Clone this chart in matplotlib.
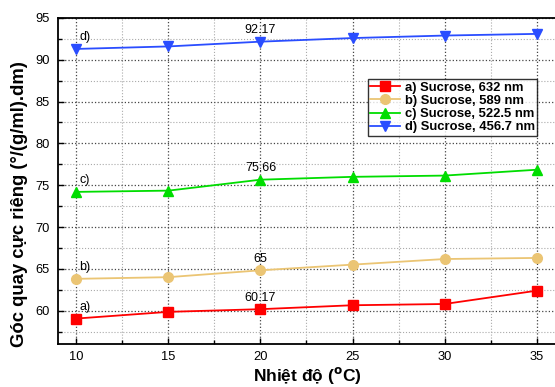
import matplotlib
matplotlib.use("Agg")
import matplotlib.pyplot as plt
from matplotlib.ticker import MultipleLocator

plt.rcParams['font.family'] = ['Liberation Sans', 'DejaVu Sans']

temps = [10, 15, 20, 25, 30, 35]
sucrose_632 = [59.05, 59.85, 60.17, 60.64, 60.79, 62.38]
sucrose_589 = [63.8, 64.0, 64.82, 65.5, 66.17, 66.3]
sucrose_5225 = [74.2, 74.35, 75.66, 76.0, 76.15, 76.85]
sucrose_4567 = [91.3, 91.6, 92.17, 92.6, 92.9, 93.1]

series_labels = ["a) Sucrose, 632 nm", "b) Sucrose, 589 nm",
                 "c) Sucrose, 522.5 nm", "d) Sucrose, 456.7 nm"]
tags = ["a)", "b)", "c)", "d)"]
highlight = ["60.17", "65", "75.66", "92.17"]

colors = ["#FF0000", "#EBC574", "#00DD00", "#2A4DFF"]
markers = ["s", "o", "^", "v"]

fig = plt.figure(figsize=(5.55, 3.87), dpi=100)
ax = fig.add_axes([0.1045, 0.111, 0.8955, 0.8425])

data = [sucrose_632, sucrose_589, sucrose_5225, sucrose_4567]
for vals, c, m, lab in zip(data, colors, markers, series_labels):
    ax.plot(temps, vals, color=c, marker=m, markersize=7, linewidth=1.3,
            label=lab, zorder=3)

for vals, tag, hl in zip(data, tags, highlight):
    ax.annotate(tag, (temps[0], vals[0]), xytext=(2, 4), textcoords='offset points',
                fontsize=9, ha='left', va='bottom')
    ax.annotate(hl, (temps[2], vals[2]), xytext=(0, 4), textcoords='offset points',
                fontsize=9, ha='center', va='bottom')

ax.set_xlim(9, 36)
ax.set_ylim(56, 95)
ax.set_xticks(temps)
ax.xaxis.set_minor_locator(MultipleLocator(2.5))
ax.yaxis.set_major_locator(MultipleLocator(5))
ax.yaxis.set_minor_locator(MultipleLocator(2.5))
ax.tick_params(which='both', direction='in', labelsize=9.3, width=1)
ax.tick_params(which='major', length=4)
ax.tick_params(which='minor', length=3)
ax.tick_params(axis='x', pad=5)
ax.tick_params(axis='y', pad=6)
ax.grid(which='major', linestyle=':', color='#444444', linewidth=0.9)
ax.grid(which='minor', linestyle=':', color='#AAAAAA', linewidth=0.8)
ax.set_axisbelow(True)
for s in ax.spines.values():
    s.set_linewidth(1.3)
ax.spines['right'].set_visible(False)

ax.set_xlabel("Nhiệt độ ($^{\\mathbf{o}}$C)", fontsize=12.5, fontweight='bold')
ax.xaxis.set_label_coords(0.501, -0.064)
ax.set_ylabel("Góc quay cực riêng (°/(g/ml).dm)", fontsize=13.3, fontweight='bold')
ax.yaxis.set_label_coords(-0.06, 0.43)

leg = ax.legend(loc='upper left', bbox_to_anchor=(0.623, 0.813),
                prop={'weight': 'bold', 'size': 9.4}, frameon=True, fancybox=False,
                edgecolor='black', handlelength=2.3, borderpad=0.2, labelspacing=0.08,
                handletextpad=0.35, borderaxespad=0)
leg.get_frame().set_linewidth(1.0)

fig.savefig("out.png", dpi=100)
